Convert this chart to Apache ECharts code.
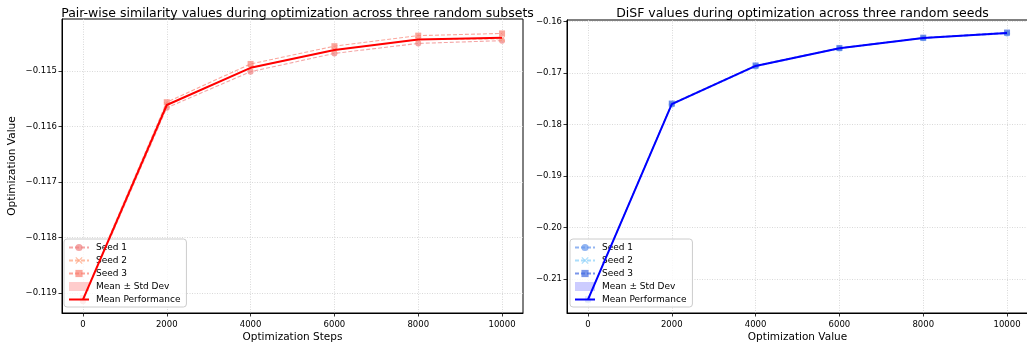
<!DOCTYPE html>
<html>
<head>
<meta charset="utf-8">
<script src="https://cdn.jsdelivr.net/npm/echarts@6/dist/echarts.min.js"></script>
<style>html,body{margin:0;padding:0;background:#fff}#c{width:1027px;height:343px}</style>
</head>
<body>
<div id="c"></div>
<script>
// ---- data ----
const steps = [0, 2000, 4000, 6000, 8000, 10000];

const simSeed1 = [-0.11915, -0.11566, -0.11501, -0.11468, -0.11450, -0.11445];
const simSeed2 = [-0.11912, -0.11561, -0.11494, -0.11462, -0.11443, -0.11442];
const simSeed3 = [-0.11909, -0.11556, -0.11487, -0.11455, -0.11436, -0.11432];
const simMean  = [-0.11912, -0.11561, -0.11494, -0.11462, -0.11443, -0.11440];
const simStd   = [0.00004, 0.00005, 0.00007, 0.00007, 0.00007, 0.00007];

const disfSeed1 = [-0.2141, -0.1761, -0.1687, -0.1652, -0.1632, -0.1623];
const disfSeed2 = [-0.2140, -0.1760, -0.1686, -0.1652, -0.1632, -0.1622];
const disfSeed3 = [-0.2139, -0.1759, -0.1685, -0.1651, -0.1631, -0.1621];
const disfMean  = [-0.2140, -0.1760, -0.1686, -0.16517, -0.16317, -0.1622];
const disfStd   = [0.0001, 0.0001, 0.0001, 0.0001, 0.0001, 0.0001];

const seedNames = ['Seed 1', 'Seed 2', 'Seed 3'];
const titles = ['Pair-wise similarity values during optimization across three random subsets',
                'DiSF values during optimization across three random seeds'];
const xNames = ['Optimization Steps', 'Optimization Value'];
const yName = 'Optimization Value';

// ---- helpers ----
const FONT = 'DejaVu Sans';
const pairs = (ys) => steps.map((x, i) => [x, ys[i]]);
const X_SYMBOL = 'path://M0,1.2 L1.2,0 L5,3.8 L8.8,0 L10,1.2 L6.2,5 L10,8.8 L8.8,10 L5,6.2 L1.2,10 L0,8.8 L3.8,5 Z';
const LINE_ICON = 'path://M0,0 L40,0 L40,4 L0,4 Z';
const symbols = ['circle', X_SYMBOL, 'rect'];

function seedSeries(prefix, name, ys, color, sym, gi) {
  return {
    type: 'line', name: prefix + name, xAxisIndex: gi, yAxisIndex: gi,
    data: pairs(ys), symbol: sym, symbolSize: 6, showSymbol: true,
    lineStyle: { color: color, width: 1.1, type: [4, 2], opacity: 0.7 },
    itemStyle: { color: color, opacity: 0.7 }, z: 3, animation: false
  };
}
function bandSeries(prefix, mean, std, color, gi) {
  const lower = steps.map((x, i) => [x, mean[i] - std[i]]);
  const width = steps.map((x, i) => [x, 2 * std[i]]);
  return [
    { type: 'line', name: prefix + 'band-low', xAxisIndex: gi, yAxisIndex: gi, data: lower,
      stack: 'band' + gi, stackStrategy: 'all', symbol: 'none', lineStyle: { opacity: 0 }, z: 2, animation: false, silent: true },
    { type: 'line', name: prefix + 'Mean \u00b1 Std Dev', xAxisIndex: gi, yAxisIndex: gi, data: width,
      stack: 'band' + gi, stackStrategy: 'all', symbol: 'none', lineStyle: { opacity: 0 },
      areaStyle: { color: color, opacity: 1 }, itemStyle: { color: color }, z: 2, animation: false, silent: true }
  ];
}
function meanSeries(prefix, mean, color, gi) {
  return { type: 'line', name: prefix + 'Mean Performance', xAxisIndex: gi, yAxisIndex: gi, data: pairs(mean),
    symbol: 'none', lineStyle: { color: color, width: 2 }, itemStyle: { color: color }, z: 4, animation: false };
}
function legend(prefix, left, bandColor, meanColor) {
  return {
    orient: 'vertical', left: left, top: 239, padding: [4, 6, 3, 4],
    itemGap: 4, itemWidth: 20, itemHeight: 9,
    backgroundColor: 'rgba(255,255,255,0.8)', borderColor: '#cccccc', borderWidth: 1, borderRadius: 3,
    textStyle: { fontFamily: FONT, fontSize: 9, color: '#000', padding: [0, 0, 0, 2] },
    formatter: (n) => n.replace(prefix, ''),
    selectedMode: false,
    data: [
      { name: prefix + 'Seed 1' }, { name: prefix + 'Seed 2' }, { name: prefix + 'Seed 3' },
      { name: prefix + 'Mean \u00b1 Std Dev', icon: 'rect', itemStyle: { color: bandColor } },
      { name: prefix + 'Mean Performance', icon: LINE_ICON, itemStyle: { color: meanColor } }
    ]
  };
}
const minus = (s) => s.replace('-', '\u2212');
function xAxis(gi, name) {
  return {
    type: 'value', gridIndex: gi, min: -500, max: 10500, splitNumber: 5,
    name: name, nameLocation: 'middle', nameGap: 19, nameMoveOverlap: false,
    nameTextStyle: { fontFamily: FONT, fontSize: 10.5, color: '#000' },
    axisLine: { show: true, onZero: false, lineStyle: { color: '#000', width: 1 } },
    axisTick: { show: true, inside: false, length: 3.5, lineStyle: { color: '#000', width: 0.8 } },
    axisLabel: { fontFamily: FONT, fontSize: 8.5, color: '#000', margin: 7, showMinLabel: false, showMaxLabel: false,
      formatter: (v) => (Math.abs(v % 2000) < 1e-6 ? String(v) : '') },
    splitLine: { show: true, showMinLine: false, showMaxLine: false, lineStyle: { color: '#cfcfcf', width: 0.8, type: [1, 1.5] } }
  };
}
function yAxis(gi, min, max, step, digits, name) {
  return {
    type: 'value', gridIndex: gi, min: min, max: max, splitNumber: 5,
    name: name || '', nameLocation: 'middle', nameGap: 44, nameRotate: 90, nameMoveOverlap: false,
    nameTextStyle: { fontFamily: FONT, fontSize: 10.5, color: '#000' },
    axisLine: { show: true, onZero: false, lineStyle: { color: '#000', width: 1 } },
    axisTick: { show: true, inside: false, length: 3.5, lineStyle: { color: '#000', width: 0.8 } },
    axisLabel: { fontFamily: FONT, fontSize: 8.5, color: '#000', margin: 5, showMinLabel: false, showMaxLabel: false,
      formatter: (v) => { const k = v / step; return Math.abs(k - Math.round(k)) < 1e-6 ? minus(v.toFixed(digits)) : ''; } },
    splitLine: { show: true, showMinLine: false, showMaxLine: false, lineStyle: { color: '#cfcfcf', width: 0.8, type: [1, 1.5] } }
  };
}

const redSeeds = ['#f08080', '#ffa07a', '#fa8072'];
const blueSeeds = ['#6495ed', '#87cefa', '#4169e1'];
const simSeeds = [simSeed1, simSeed2, simSeed3];
const disfSeeds = [disfSeed1, disfSeed2, disfSeed3];

const series = [];
series.push(...bandSeries('L:', simMean, simStd, '#ffcccc', 0));
simSeeds.forEach((s, i) => series.push(seedSeries('L:', seedNames[i], s, redSeeds[i], symbols[i], 0)));
series.push(meanSeries('L:', simMean, '#ff0000', 0));
series.push(...bandSeries('R:', disfMean, disfStd, '#ccccff', 1));
disfSeeds.forEach((s, i) => series.push(seedSeries('R:', seedNames[i], s, blueSeeds[i], symbols[i], 1)));
series.push(meanSeries('R:', disfMean, '#0000ff', 1));

const chart = echarts.init(document.getElementById('c'), null, { renderer: 'canvas' });
chart.setOption({
  animation: false,
  backgroundColor: '#ffffff',
  title: [
    { text: titles[0], left: 292.5, top: 2, textAlign: 'center',
      textStyle: { fontFamily: FONT, fontSize: 12.5, fontWeight: 'normal', color: '#000' } },
    { text: titles[1], left: 797.5, top: 2, textAlign: 'center',
      textStyle: { fontFamily: FONT, fontSize: 12.5, fontWeight: 'normal', color: '#000' } }
  ],
  grid: [
    { left: 62, top: 19, width: 461, height: 294, show: true, borderColor: '#000', borderWidth: 1,
      backgroundColor: 'transparent', containLabel: false, outerBoundsMode: 'none' },
    { left: 567, top: 20, width: 461, height: 293, show: true, borderColor: '#000', borderWidth: 1,
      backgroundColor: 'transparent', containLabel: false, outerBoundsMode: 'none' }
  ],
  xAxis: [xAxis(0, xNames[0]), xAxis(1, xNames[1])],
  yAxis: [yAxis(0, -0.11936, -0.11406, 0.001, 3, yName), yAxis(1, -0.2166, -0.15967, 0.01, 2, '')],
  legend: [legend('L:', 64, '#ffcccc', '#ff0000'), legend('R:', 570, '#ccccff', '#0000ff')],
  series: series
});
</script>
</body>
</html>
